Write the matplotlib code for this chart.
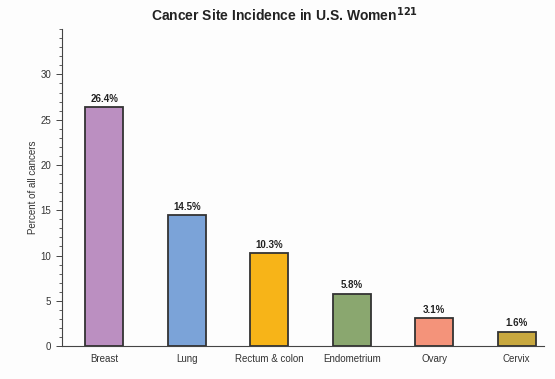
import matplotlib
matplotlib.use("Agg")
import matplotlib.pyplot as plt
from matplotlib.ticker import MultipleLocator

plt.rcParams["font.family"] = ["Liberation Sans", "DejaVu Sans"]

# data
sites = ["Breast", "Lung", "Rectum & colon", "Endometrium", "Ovary", "Cervix"]
percent = [26.4, 14.5, 10.3, 5.8, 3.1, 1.6]
labels = ["26.4%", "14.5%", "10.3%", "5.8%", "3.1%", "1.6%"]
colors = ["#bb8fc1", "#7ba3d8", "#f7b418", "#8aa76f", "#f4937a", "#c8a83f"]

fig = plt.figure(figsize=(5.55, 3.79), dpi=100, facecolor="#fdfdfd")
ax = fig.add_axes([0.112, 0.087, 0.868, 0.836], facecolor="#fdfdfd")

x = range(len(sites))
bars = ax.bar(x, percent, width=0.46, color=colors, edgecolor="#333333", linewidth=1.3)
for b, lab in zip(bars, labels):
    ax.text(b.get_x() + b.get_width() / 2, b.get_height() + 0.35, lab,
            ha="center", va="bottom", fontsize=7, fontweight="bold", color="#222222")

ax.set_xlim(-0.51, 5.33)
ax.set_ylim(0, 35)
ax.set_yticks([0, 5, 10, 15, 20, 25, 30])
ax.yaxis.set_minor_locator(MultipleLocator(1))
ax.set_xticks(list(x))
ax.set_xticklabels(sites, fontsize=7, color="#333333")
ax.tick_params(axis="y", labelsize=7, length=4, width=0.7, color="#444444",
               labelcolor="#333333", pad=4)
ax.tick_params(axis="y", which="minor", length=2, width=0.6, color="#444444")
ax.tick_params(axis="x", length=0, pad=6)
ax.spines["top"].set_visible(False)
ax.spines["right"].set_visible(False)
for side in ["left", "bottom"]:
    ax.spines[side].set_color("#444444")
    ax.spines[side].set_linewidth(0.8)

ax.set_ylabel("Percent of all cancers", fontsize=7, color="#333333")
ax.yaxis.set_label_coords(-0.05, 0.5)

fig.text(0.513, 0.962, r"Cancer Site Incidence in U.S. Women$^{\mathbf{121}}$",
         ha="center", va="center", fontsize=10, fontweight="bold", color="#222222")

fig.savefig("out.png", dpi=100, facecolor=fig.get_facecolor())
